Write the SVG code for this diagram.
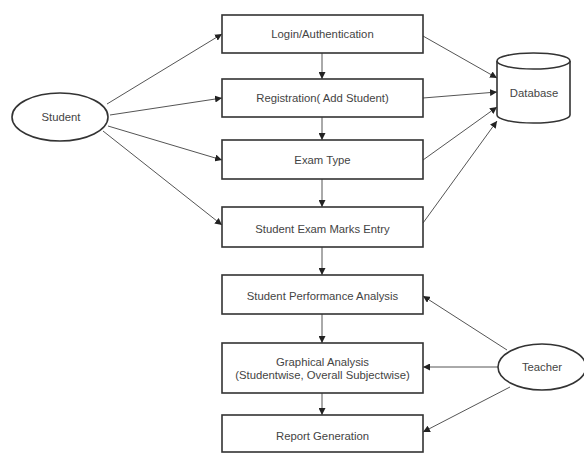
<svg xmlns="http://www.w3.org/2000/svg" width="584" height="454" viewBox="0 0 584 454">
<style>
.box{fill:#fff;stroke:#333;stroke-width:1.6}
.shape{fill:#fff;stroke:#333;stroke-width:1.6}
.lbl{font-family:"Liberation Sans",Arial,sans-serif;font-size:11.3px;fill:#444;text-anchor:middle}
.conn line{stroke:#555;stroke-width:1;marker-end:url(#ah)}
</style>
<defs>
<marker id="ah" viewBox="0 0 10 10" refX="10" refY="5" markerWidth="7" markerHeight="7" orient="auto" markerUnits="userSpaceOnUse">
<path d="M0,0 L10,5 L0,10 z" fill="#222"/>
</marker>
</defs>
<rect width="584" height="454" fill="#fff"/>
<g id="connectors" class="conn">
<line x1="107" y1="104" x2="222" y2="34"/>
<line x1="110" y1="115" x2="222" y2="98"/>
<line x1="108" y1="126" x2="222" y2="160"/>
<line x1="103" y1="131" x2="222" y2="225"/>
<line x1="423" y1="36" x2="497" y2="78"/>
<line x1="423" y1="98" x2="497" y2="92"/>
<line x1="423" y1="160" x2="497" y2="107"/>
<line x1="423" y1="223" x2="497" y2="121"/>
<line x1="322" y1="53" x2="322" y2="79"/>
<line x1="322" y1="117" x2="322" y2="140"/>
<line x1="322" y1="179" x2="322" y2="207"/>
<line x1="322" y1="247" x2="322" y2="275"/>
<line x1="322" y1="314" x2="322" y2="343"/>
<line x1="322" y1="393" x2="322" y2="415"/>
<line x1="507" y1="350" x2="423" y2="296"/>
<line x1="498" y1="367" x2="423" y2="367"/>
<line x1="510" y1="387" x2="423" y2="432"/>
</g>
<g id="student"><ellipse class="shape" cx="60" cy="117" rx="48" ry="24"/><text class="lbl" x="61" y="121">Student</text></g>
<g id="teacher"><ellipse class="shape" cx="542" cy="367" rx="44" ry="23"/><text class="lbl" x="542" y="371">Teacher</text></g>
<g id="database">
<path class="shape" d="M497,61 L497,115 A36.5,8 0 0 0 570,115 L570,61"/>
<ellipse class="shape" cx="533.5" cy="61" rx="36.5" ry="8"/>
<text class="lbl" x="534" y="97">Database</text>
</g>
<g id="login"><rect class="box" x="222" y="15" width="201" height="38"/><text class="lbl" x="322.5" y="38">Login/Authentication</text></g>
<g id="registration"><rect class="box" x="222" y="79" width="201" height="38"/><text class="lbl" x="322.5" y="102">Registration( Add Student)</text></g>
<g id="examtype"><rect class="box" x="222" y="140" width="201" height="39"/><text class="lbl" x="322.5" y="164">Exam Type</text></g>
<g id="marks"><rect class="box" x="222" y="207" width="201" height="40"/><text class="lbl" x="322.5" y="233">Student Exam  Marks Entry</text></g>
<g id="performance"><rect class="box" x="222" y="275" width="201" height="39"/><text class="lbl" x="322.5" y="300">Student Performance Analysis</text></g>
<g id="graphical"><rect class="box" x="222" y="343" width="201" height="50"/><text class="lbl" x="322.5" y="366">Graphical Analysis</text><text class="lbl" x="322.5" y="379">(Studentwise, Overall Subjectwise)</text></g>
<g id="report"><rect class="box" x="222" y="415" width="201" height="37"/><text class="lbl" x="322.5" y="440">Report Generation</text></g>
</svg>
